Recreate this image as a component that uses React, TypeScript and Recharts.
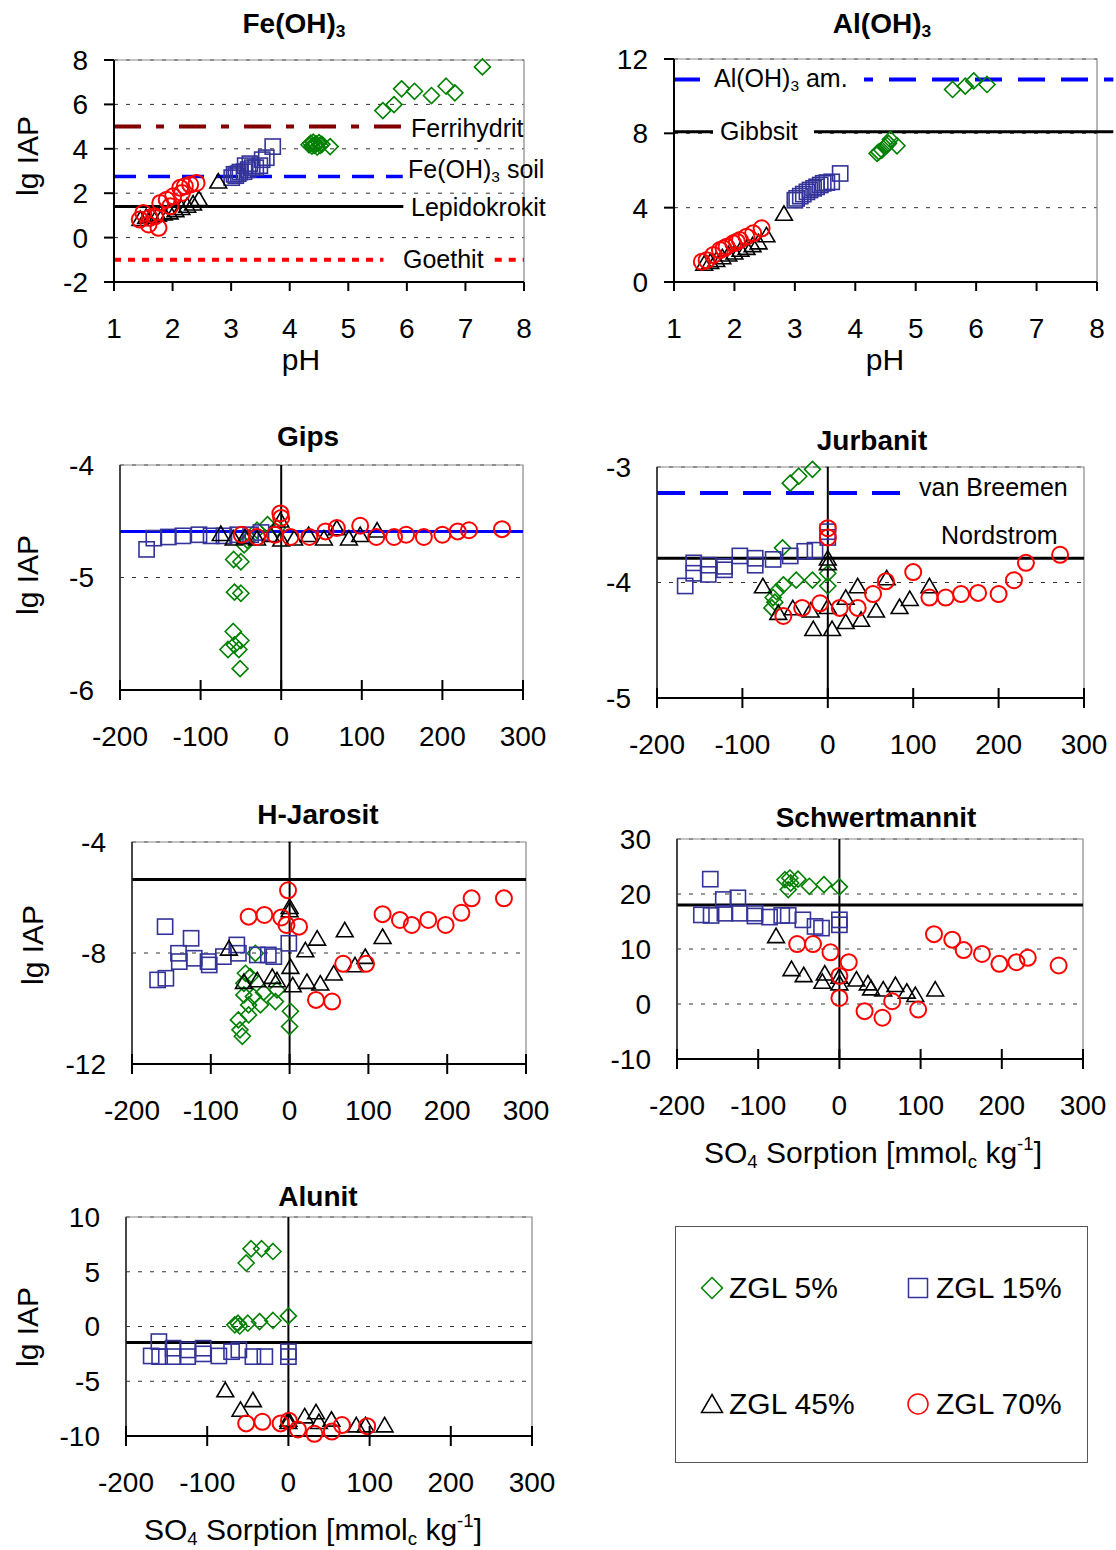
import React from 'react';
import { ScatterChart, Scatter, XAxis, YAxis, CartesianGrid, ReferenceLine, ReferenceArea } from 'recharts';

type Pt = [number, number];
type Kind = 'diamond' | 'square' | 'triangle' | 'circle';

// tick values
const phTicks = [1, 2, 3, 4, 5, 6, 7, 8];
const so4Ticks = [-200, -100, 0, 100, 200, 300];
const feTicks = [-2, 0, 2, 4, 6, 8];
const alTicks = [0, 4, 8, 12];
const gipsTicks = [-6, -5, -4];
const jurbTicks = [-5, -4, -3];
const jarTicks = [-12, -8, -4];
const schwTicks = [-10, 0, 10, 20, 30];
const aluTicks = [-10, -5, 0, 5, 10];

const seriesNames = ['ZGL 5%', 'ZGL 15%', 'ZGL 45%', 'ZGL 70%'];
const kinds: Kind[] = ['diamond', 'square', 'triangle', 'circle'];
const colors = ['#008000', '#333399', '#000000', '#ff0000'];

// Fe(OH)3 vs pH
const feZ5: Pt[] = [[7.29, 7.69], [5.59, 5.72], [5.78, 5.99], [5.91, 6.7], [6.13, 6.59], [6.42, 6.4], [6.67, 6.82], [6.82, 6.52], [4.33, 4.18], [4.36, 4.25], [4.38, 4.12], [4.4, 4.3], [4.42, 4.15], [4.45, 4.22], [4.47, 4.08], [4.5, 4.28], [4.52, 4.15], [4.55, 4.2], [4.69, 4.1]];
const feZ15: Pt[] = [[3.01, 2.7], [3.05, 2.85], [3.08, 2.79], [3.12, 2.88], [3.15, 2.95], [3.22, 2.97], [3.24, 3.24], [3.29, 3.06], [3.32, 3.33], [3.36, 3.15], [3.42, 3.15], [3.49, 3.24], [3.53, 3.51], [3.6, 3.6], [3.71, 4.1]];
const feZ45: Pt[] = [[1.45, 0.85], [1.55, 0.95], [1.65, 1.0], [1.75, 1.05], [1.85, 1.1], [1.95, 1.15], [2.05, 1.25], [2.15, 1.35], [2.25, 1.45], [2.35, 1.55], [2.45, 1.75], [2.78, 2.54]];
const feZ70: Pt[] = [[1.44, 0.81], [1.5, 1.11], [1.59, 0.59], [1.61, 0.89], [1.7, 0.96], [1.76, 0.44], [1.79, 1.56], [1.9, 1.71], [1.96, 1.41], [2.01, 1.86], [2.13, 2.24], [2.16, 2.01], [2.21, 2.31], [2.3, 2.39], [2.41, 2.46]];

// Al(OH)3 vs pH
const alZ5: Pt[] = [[5.61, 10.36], [5.82, 10.54], [5.96, 10.82], [6.18, 10.63], [4.36, 6.92], [4.39, 7.0], [4.44, 7.1], [4.49, 7.27], [4.52, 7.37], [4.55, 7.46], [4.58, 7.67], [4.69, 7.33]];
const alZ15: Pt[] = [[3.0, 4.4], [3.03, 4.5], [3.09, 4.62], [3.14, 4.73], [3.2, 4.85], [3.25, 4.95], [3.31, 5.04], [3.36, 5.12], [3.42, 5.22], [3.47, 5.31], [3.53, 5.35], [3.61, 5.39], [3.75, 5.84]];
const alZ45: Pt[] = [[1.5, 1.0], [1.6, 1.1], [1.7, 1.2], [1.8, 1.35], [1.9, 1.5], [2.0, 1.6], [2.1, 1.75], [2.2, 1.85], [2.3, 2.0], [2.4, 2.15], [2.53, 2.53], [2.82, 3.69]];
const alZ70: Pt[] = [[1.46, 1.09], [1.54, 1.17], [1.65, 1.45], [1.76, 1.72], [1.82, 1.8], [1.87, 1.9], [1.98, 2.08], [2.04, 2.17], [2.09, 2.26], [2.2, 2.44], [2.31, 2.62], [2.45, 2.89]];

// Gips vs SO4 sorption
const gpZ5: Pt[] = [[-59, -4.84], [-50, -4.86], [-58, -5.13], [-50, -5.14], [-59.5, -5.48], [-50, -5.56], [-66, -5.64], [-52.5, -5.64], [-58, -5.6], [-51, -5.81], [-46, -4.71], [-42, -4.67], [-30, -4.58], [-17, -4.53], [-5, -4.56]];
const gpZ15: Pt[] = [[-167, -4.75], [-158, -4.65], [-140, -4.64], [-122, -4.63], [-102, -4.62], [-87, -4.63], [-71, -4.63], [-54, -4.62], [-38, -4.62], [-25, -4.6]];
const gpZ45: Pt[] = [[-75, -4.61], [-59, -4.65], [-45, -4.64], [-30, -4.65], [-13, -4.62], [-1, -4.49], [0, -4.66], [16, -4.65], [34, -4.62], [53, -4.65], [69, -4.56], [84, -4.65], [98, -4.62], [119, -4.58]];
const gpZ70: Pt[] = [[-49, -4.62], [-30, -4.64], [-8, -4.62], [-1, -4.43], [0, -4.47], [11.5, -4.64], [35, -4.64], [55, -4.59], [69, -4.56], [98, -4.54], [118, -4.64], [140, -4.64], [155, -4.62], [177, -4.64], [200, -4.62], [219, -4.59], [233, -4.58], [274, -4.57]];

// Jurbanit
const jbZ5: Pt[] = [[-44, -3.14], [-34, -3.08], [-18, -3.02], [-53, -3.7], [0, -3.92], [0, -4.03], [-18, -3.98], [-37, -3.98], [-52, -4.02], [-60, -4.08], [-64, -4.13], [-62, -4.17], [-65.5, -4.22]];
const jbZ15: Pt[] = [[-167, -4.03], [-157, -3.83], [-157, -3.92], [-140, -3.85], [-140, -3.93], [-121, -3.86], [-121, -3.89], [-103, -3.77], [-85, -3.79], [-85, -3.85], [-64, -3.8], [-44, -3.77], [-27, -3.73], [-15, -3.72], [0, -3.61], [0, -3.56]];
const jbZ45: Pt[] = [[0, -3.79], [0, -3.83], [-76, -4.03], [-58, -4.26], [-41, -4.22], [-20, -4.24], [0, -4.21], [-17, -4.4], [5, -4.4], [21, -4.13], [35, -4.03], [21, -4.34], [39, -4.32], [56.5, -4.24], [69, -3.96], [84, -4.21], [96, -4.14], [119, -4.03]];
const jbZ70: Pt[] = [[-52, -4.29], [-30, -4.22], [-9, -4.18], [0, -3.53], [0, -3.61], [14, -4.22], [35, -4.22], [53, -4.1], [68, -3.99], [100, -3.91], [119, -4.13], [138, -4.13], [156, -4.1], [176, -4.09], [200, -4.1], [218, -3.98], [232, -3.83], [272, -3.76]];

// H-Jarosit
const jaZ5: Pt[] = [[-43.5, -8.01], [-56, -8.73], [-58, -9.09], [-50, -8.85], [-33, -9.42], [-16, -9.33], [-58, -9.51], [-46, -9.57], [-37, -9.87], [-18, -9.75], [-52, -9.87], [-65, -10.41], [-52, -10.23], [-63, -10.77], [-60, -11.0], [1, -10.1], [0, -10.65]];
const jaZ15: Pt[] = [[-158, -7.05], [-125, -7.47], [-141, -8.01], [-167.5, -8.97], [-157, -8.91], [-140, -8.31], [-121, -8.19], [-103.5, -8.31], [-102, -8.43], [-84, -8.13], [-67, -7.71], [-65, -8.01], [-41, -8.07], [-27, -8.07], [-20, -8.13], [-1, -7.65]];
const jaZ45: Pt[] = [[0, -6.33], [0, -6.45], [-77, -7.83], [1, -8.49], [20, -7.89], [35, -7.47], [70, -7.17], [118, -7.41], [-58, -9.03], [-41, -8.97], [-22, -8.85], [-16, -8.97], [4, -9.15], [22, -9.03], [39, -9.09], [56, -8.73], [83, -8.43], [96, -8.13]];
const jaZ70: Pt[] = [[-52, -6.69], [-32, -6.63], [-10.5, -6.72], [-2, -5.74], [-4, -6.99], [12, -7.05], [33.5, -9.69], [54, -9.75], [68, -8.39], [97, -8.39], [118, -6.6], [140, -6.81], [155, -6.99], [176, -6.81], [198, -6.99], [218, -6.55], [231, -6.03], [272, -6.03]];

// Schwertmannit
const swZ5: Pt[] = [[-67, 22.6], [-61, 22.9], [-51, 22.7], [-63, 20.8], [-60, 22.0], [-37, 21.4], [-19, 21.7], [0, 21.3]];
const swZ15: Pt[] = [[-159, 22.7], [-143, 19.0], [-125, 19.3], [-170, 16.2], [-158, 16.1], [-141, 16.5], [-123, 16.5], [-104, 16.5], [-104, 16.0], [-86, 15.8], [-71, 16.1], [-63, 16.1], [-45, 15.3], [-30, 14.1], [-22, 13.8], [0, 15.3], [0, 14.4]];
const swZ45: Pt[] = [[-78, 12.4], [-59, 6.4], [-44, 5.3], [-21, 4.1], [-18, 5.6], [0, 5.0], [0, 3.8], [21, 4.5], [35, 3.8], [39, 2.9], [54, 2.7], [69, 3.5], [83, 2.3], [93.5, 1.7], [118, 2.7]];
const swZ70: Pt[] = [[-52, 10.9], [-32.5, 10.9], [-11, 9.4], [11.5, 7.6], [0, 5.1], [0, 1.1], [31, -1.3], [53, -2.5], [65, 0.5], [97, -1.0], [116.5, 12.7], [139, 11.7], [153, 9.8], [175.6, 9.1], [197, 7.3], [218, 7.6], [232, 8.4], [270, 7.0]];

// Alunit
const auZ5: Pt[] = [[-52, 5.8], [-46, 7.1], [-33, 7.1], [-19, 6.85], [-66, 0.15], [-62, 0.3], [-60, 0.05], [-50, 0.3], [-35.5, 0.45], [-19, 0.55], [0, 0.97]];
const auZ15: Pt[] = [[-159.5, -1.38], [-169, -2.69], [-158.6, -2.75], [-142, -1.98], [-142, -2.75], [-124, -2.14], [-124, -2.75], [-105, -1.98], [-105, -2.5], [-85.6, -2.69], [-70, -2.3], [-61, -2.14], [-43.7, -2.75], [-29, -2.75], [0, -2.3], [0, -2.75]];
const auZ45: Pt[] = [[-77.7, -5.8], [-43.7, -6.7], [-59, -7.57], [0, -8.48], [0, -8.7], [20, -8.18], [34, -7.8], [37.6, -8.7], [53, -8.48], [83.6, -9.0], [95, -9.0], [118.5, -9.0]];
const auZ70: Pt[] = [[-52, -8.85], [-32, -8.7], [-9.6, -8.85], [0.6, -8.6], [11.7, -9.4], [32, -9.8], [53.5, -9.6], [66, -9.0], [97, -9.1]];

// solubility lines (lg K values)
const ferrihydrit = 5.0;
const feSoil = 2.75;
const lepidokrokit = 1.4;
const goethit = -1.0;
const alAmorph = 10.9;
const gibbsit = 8.08;
const gipsK = -4.59;
const vanBreemen = -3.225;
const nordstrom = -3.79;
const jarositK = -5.35;
const schwertK = 18.0;
const alunitK = -1.45;

const FONT = '"Liberation Sans", Arial, sans-serif';

function Mark({ kind, cx, cy, r, color, sw }: { kind: Kind; cx: number; cy: number; r: number; color: string; sw: number }) {
  if (cx == null || cy == null) return null;
  if (kind === 'diamond')
    return <polygon points={`${cx},${cy - r} ${cx + r},${cy} ${cx},${cy + r} ${cx - r},${cy}`} fill="none" stroke={color} strokeWidth={sw} />;
  if (kind === 'square')
    return <rect x={cx - r * 0.95} y={cy - r * 0.95} width={r * 1.9} height={r * 1.9} fill="none" stroke={color} strokeWidth={sw} />;
  if (kind === 'triangle')
    return <polygon points={`${cx},${cy - r * 0.95} ${cx + r * 1.05},${cy + r * 0.85} ${cx - r * 1.05},${cy + r * 0.85}`} fill="none" stroke={color} strokeWidth={sw} />;
  return <circle cx={cx} cy={cy} r={r} fill="none" stroke={color} strokeWidth={sw} />;
}

interface LineDef { y: number; stroke: string; width: number; dash?: string; segs: [number, number][] }

interface PanelProps {
  box: [number, number, number, number];
  xd: [number, number];
  xt: number[];
  yd: [number, number];
  yt: number[];
  sets: Pt[][];
  lines: LineDef[];
  so4?: boolean;
}

const CrossTick = (p: any) => (
  <g>
    <line x1={p.x} x2={p.x} y1={p.y - 10} y2={p.y + 10} stroke="#000" strokeWidth={2} />
    <text x={p.x} y={p.y + 56} textAnchor="middle" fontSize={28} fill="#000" fontFamily={FONT}>{p.payload.value}</text>
  </g>
);

function Panel({ box, xd, xt, yd, yt, sets, lines, so4 }: PanelProps) {
  const [l, t, r, b] = box;
  const padL = 110, padT = 20, padB = 70;
  const padR = Math.min(30, 1116 - r);
  const w = r - l + padL + padR;
  const h = b - t + padT + padB;
  return (
    <div style={{ position: 'absolute', left: l - padL, top: t - padT }}>
      <ScatterChart width={w} height={h} margin={{ top: padT, right: padR, bottom: 0, left: 0 }}>
        <CartesianGrid vertical={false} stroke="#333" strokeDasharray="4 8" />
        <ReferenceArea x1={xd[0]} x2={xd[1]} y1={yd[0]} y2={yd[1]} fill="none" stroke="#888" strokeWidth={1.2} />
        {so4 ? (
          <XAxis type="number" dataKey="x" domain={xd} ticks={xt} interval={0} height={padB}
            axisLine={{ stroke: '#000', strokeWidth: 2 }} tickLine={false} tickSize={0} tickMargin={0} tick={<CrossTick />} />
        ) : (
          <XAxis type="number" dataKey="x" domain={xd} ticks={xt} interval={0} height={padB}
            axisLine={{ stroke: '#000', strokeWidth: 2 }} tickLine={{ stroke: '#000', strokeWidth: 2 }} tickSize={9} tickMargin={27}
            tick={{ fill: '#000', fontSize: 28 }} />
        )}
        <YAxis type="number" dataKey="y" domain={yd} ticks={yt} interval={0} width={padL}
          axisLine={so4 ? { stroke: '#222', strokeWidth: 1.5 } : { stroke: '#000', strokeWidth: 2 }}
          tickLine={so4 ? false : { stroke: '#000', strokeWidth: 2 }} tickSize={10} tickMargin={16}
          tick={{ fill: '#000', fontSize: 28 }} />
        {so4 && <ReferenceLine x={0} stroke="#000" strokeWidth={2} />}
        {lines.flatMap((ln, i) =>
          ln.segs.map((s, j) => (
            <ReferenceLine key={`${i}-${j}`} ifOverflow="visible" stroke={ln.stroke} strokeWidth={ln.width} strokeDasharray={ln.dash}
              segment={[{ x: s[0], y: ln.y }, { x: s[1], y: ln.y }]} />
          ))
        )}
        {sets.map((d, i) => (
          <Scatter key={i} name={seriesNames[i]} data={d.map(([x, y]) => ({ x, y }))} isAnimationActive={false}
            shape={(p: any) => <Mark kind={kinds[i]} cx={p.cx} cy={p.cy} r={8} color={colors[i]} sw={i === 3 ? 2 : 1.6} />} />
        ))}
      </ScatterChart>
    </div>
  );
}

function Txt({ x, y, size = 25, bold, center, bg, pad, children }: any) {
  return (
    <div style={{
      position: 'absolute', left: x, top: y, fontSize: size, fontWeight: bold ? 'bold' : 'normal', lineHeight: 1,
      whiteSpace: 'nowrap', transform: center ? 'translate(-50%,-50%)' : 'translateY(-50%)', background: bg,
      padding: pad, color: '#000',
    }}>{children}</div>
  );
}

function VTxt({ x, y, children }: any) {
  return (
    <div style={{ position: 'absolute', left: x, top: y, fontSize: 30, lineHeight: 1, whiteSpace: 'nowrap', transform: 'translate(-50%,-50%) rotate(-90deg)' }}>{children}</div>
  );
}

const subStyle: React.CSSProperties = { fontSize: '0.62em', verticalAlign: '-0.25em' };
const supStyle: React.CSSProperties = { fontSize: '0.62em', verticalAlign: '0.7em' };

const So4Label = () => (
  <>SO<span style={subStyle}>4</span> Sorption [mmol<span style={subStyle}>c</span> kg<span style={supStyle}>-1</span>]</>
);

function LegendBox() {
  const items = [
    { x: 36, y: 61, tx: 53 },
    { x: 242, y: 61, tx: 260 },
    { x: 36, y: 177, tx: 53 },
    { x: 242, y: 177, tx: 260 },
  ];
  return (
    <div style={{ position: 'absolute', left: 675, top: 1226, width: 411, height: 235, border: '1.5px solid #555' }}>
      {items.map((it, i) => (
        <React.Fragment key={i}>
          <svg style={{ position: 'absolute', left: it.x - 14, top: it.y - 14 }} width={28} height={28}>
            <Mark kind={kinds[i]} cx={14} cy={14} r={i === 0 ? 10.5 : 10} color={colors[i]} sw={1.5} />
          </svg>
          <div style={{ position: 'absolute', left: it.tx, top: it.y, transform: 'translateY(-50%)', fontSize: 30, lineHeight: 1, whiteSpace: 'nowrap' }}>{seriesNames[i]}</div>
        </React.Fragment>
      ))}
    </div>
  );
}

export default function App() {
  return (
    <div style={{ position: 'relative', width: 1116, height: 1550, overflow: 'hidden', fontFamily: FONT, background: '#fff' }}>
      <style>{'body{margin:0}'}</style>

      <Panel box={[114, 60, 524, 282]} xd={[1, 8]} xt={phTicks} yd={[-2, 8]} yt={feTicks}
        sets={[feZ5, feZ15, feZ45, feZ70]}
        lines={[
          { y: ferrihydrit, stroke: '#800000', width: 4, dash: '27 15 8 15', segs: [[1, 5.93]] },
          { y: feSoil, stroke: '#0000ff', width: 3.5, dash: '22 12', segs: [[1, 5.93]] },
          { y: lepidokrokit, stroke: '#000', width: 3, segs: [[1, 5.94]] },
          { y: goethit, stroke: '#ff0000', width: 4, dash: '7 7', segs: [[1, 5.6], [7.5, 8]] },
        ]} />

      <Panel box={[674, 59, 1097, 282]} xd={[1, 8]} xt={phTicks} yd={[0, 12]} yt={alTicks}
        sets={[alZ5, alZ15, alZ45, alZ70]}
        lines={[
          { y: alAmorph, stroke: '#0000ff', width: 4, dash: '27 16', segs: [[1, 8.27]] },
          { y: gibbsit, stroke: '#000', width: 3, segs: [[1, 8.27]] },
        ]} />

      <Panel box={[120, 465, 523, 690]} xd={[-200, 300]} xt={so4Ticks} yd={[-6, -4]} yt={gipsTicks} so4
        sets={[gpZ5, gpZ15, gpZ45, gpZ70]}
        lines={[{ y: gipsK, stroke: '#0000ff', width: 3, segs: [[-200, 300]] }]} />

      <Panel box={[657, 467, 1084, 698]} xd={[-200, 300]} xt={so4Ticks} yd={[-5, -3]} yt={jurbTicks} so4
        sets={[jbZ5, jbZ15, jbZ45, jbZ70]}
        lines={[
          { y: vanBreemen, stroke: '#0000ff', width: 4, dash: '28 15', segs: [[-200, 87]] },
          { y: nordstrom, stroke: '#000', width: 3, segs: [[-200, 300]] },
        ]} />

      <Panel box={[132, 842, 526, 1064]} xd={[-200, 300]} xt={so4Ticks} yd={[-12, -4]} yt={jarTicks} so4
        sets={[jaZ5, jaZ15, jaZ45, jaZ70]}
        lines={[{ y: jarositK, stroke: '#000', width: 3, segs: [[-200, 300]] }]} />

      <Panel box={[677, 839, 1083, 1059]} xd={[-200, 300]} xt={so4Ticks} yd={[-10, 30]} yt={schwTicks} so4
        sets={[swZ5, swZ15, swZ45, swZ70]}
        lines={[{ y: schwertK, stroke: '#000', width: 3, segs: [[-200, 300]] }]} />

      <Panel box={[126, 1217, 532, 1436]} xd={[-200, 300]} xt={so4Ticks} yd={[-10, 10]} yt={aluTicks} so4
        sets={[auZ5, auZ15, auZ45, auZ70]}
        lines={[{ y: alunitK, stroke: '#000', width: 3, segs: [[-200, 300]] }]} />

      {/* titles */}
      <Txt x={294} y={25} size={28} bold center>Fe(OH)<span style={subStyle}>3</span></Txt>
      <Txt x={882} y={25} size={28} bold center>Al(OH)<span style={subStyle}>3</span></Txt>
      <Txt x={308} y={437} size={28} bold center>Gips</Txt>
      <Txt x={872} y={441} size={28} bold center>Jurbanit</Txt>
      <Txt x={318} y={815} size={28} bold center>H-Jarosit</Txt>
      <Txt x={876} y={818} size={28} bold center>Schwertmannit</Txt>
      <Txt x={318} y={1197} size={28} bold center>Alunit</Txt>

      {/* axis titles */}
      <VTxt x={28} y={156}>lg IAP</VTxt>
      <VTxt x={28} y={575}>lg IAP</VTxt>
      <VTxt x={33} y={945}>lg IAP</VTxt>
      <VTxt x={28} y={1327}>lg IAP</VTxt>
      <Txt x={301} y={360} size={30} center>pH</Txt>
      <Txt x={885} y={360} size={30} center>pH</Txt>
      <Txt x={873} y={1153} size={30} center><So4Label /></Txt>
      <Txt x={313} y={1530} size={30} center><So4Label /></Txt>

      {/* line labels */}
      <Txt x={411} y={128}>Ferrihydrit</Txt>
      <Txt x={408} y={171}>Fe(OH)<span style={subStyle}>3</span> soil</Txt>
      <Txt x={411} y={207}>Lepidokrokit</Txt>
      <Txt x={403} y={259}>Goethit</Txt>
      <Txt x={700} y={80} bg="#fff" pad="2px 16px 2px 14px">Al(OH)<span style={subStyle}>3</span> am.</Txt>
      <Txt x={713} y={131} bg="#fff" pad="2px 16px 2px 7px">Gibbsit</Txt>
      <Txt x={919} y={487}>van Breemen</Txt>
      <Txt x={941} y={535}>Nordstrom</Txt>

      <LegendBox />
    </div>
  );
}
